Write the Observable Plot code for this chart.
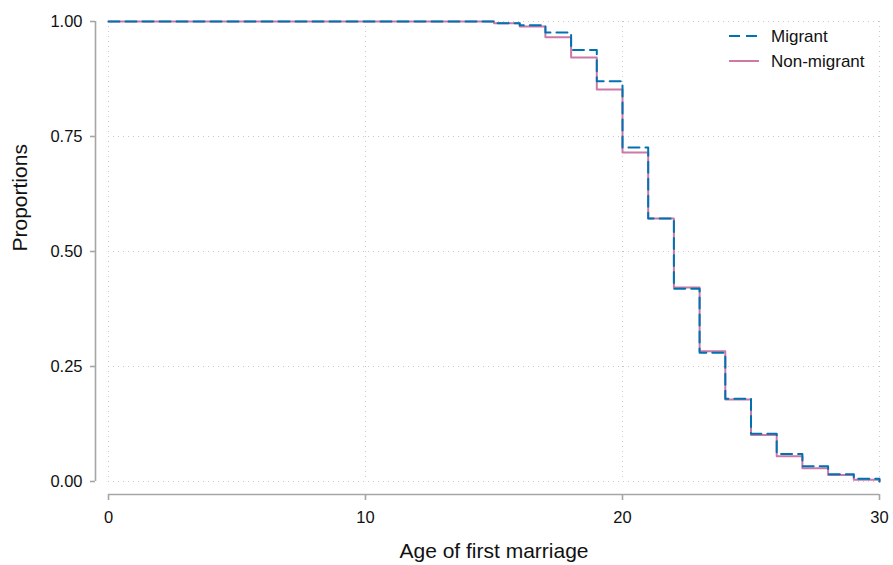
<!DOCTYPE html>
<html>
<head>
<meta charset="utf-8">
<script src="https://cdn.jsdelivr.net/npm/d3@7"></script>
<script src="https://cdn.jsdelivr.net/npm/@observablehq/plot@0.6"></script>
<style>
  html, body { margin: 0; padding: 0; background: #fff; }
  #wrap { position: relative; width: 893px; height: 565px; font-family: "Liberation Sans", Arial, sans-serif; }
  #legend { position: absolute; left: 0; top: 0; pointer-events: none; }
</style>
</head>
<body>
<div id="wrap"></div>
<script>
// ---- data ----
const ages = [0, 15, 16, 17, 18, 19, 20, 21, 22, 23, 24, 25, 26, 27, 28, 29, 30];
const migrant    = [1, 0.996, 0.992, 0.976, 0.938, 0.870, 0.726, 0.572, 0.419, 0.280, 0.180, 0.104, 0.060, 0.033, 0.016, 0.006, 0];
const nonMigrant = [1, 0.996, 0.989, 0.966, 0.922, 0.852, 0.715, 0.572, 0.422, 0.283, 0.178, 0.101, 0.055, 0.029, 0.014, 0.004, 0];
const seriesNames = ["Migrant", "Non-migrant"];
const seriesColors = ["#0072B2", "#CC79A7"];
const xTicks = [0, 10, 20, 30];
const yTicks = [0, 0.25, 0.5, 0.75, 1];
const xLabel = "Age of first marriage";
const yLabel = "Proportions";

const migData = ages.map((a, i) => ({age: a, p: migrant[i]}));
const nonData = ages.map((a, i) => ({age: a, p: nonMigrant[i]}));

const axisGray = "#a6a6a6";
const gridGray = "#c8c8c8";

const chart = Plot.plot({
  width: 893,
  height: 565,
  marginLeft: 108,
  marginRight: 14,
  marginTop: 21,
  marginBottom: 84,
  style: {fontFamily: "Liberation Sans, Arial, sans-serif", fontSize: "16.5px", color: "#111", background: "#fff"},
  x: {domain: [0, 30]},
  y: {domain: [0, 1]},
  marks: [
    Plot.gridY(yTicks, {stroke: gridGray, strokeOpacity: 1, strokeDasharray: "1,4", strokeWidth: 1}),
    Plot.gridX(xTicks, {stroke: gridGray, strokeOpacity: 1, strokeDasharray: "1,4", strokeWidth: 1}),
    Plot.ruleX([0], {y1: 0, y2: 1, dx: -13, stroke: axisGray, strokeWidth: 1.6}),
    Plot.ruleY([0], {x1: 0, x2: 30, dy: 13, stroke: axisGray, strokeWidth: 1.6}),
    Plot.axisY(yTicks, {tickSize: 5, tickPadding: 8, dx: -13, stroke: axisGray, strokeWidth: 1.6, tickFormat: d3.format(".2f"), label: null}),
    Plot.axisX(xTicks, {tickSize: 6, tickPadding: 11, dy: 13, stroke: axisGray, strokeWidth: 1.6, tickFormat: d3.format("d"), label: null}),
    Plot.text([yLabel], {frameAnchor: "left", dx: -88, rotate: -90, fontSize: 21, fill: "#111"}),
    Plot.text([xLabel], {frameAnchor: "bottom", lineAnchor: "middle", dy: 70, fontSize: 21, fill: "#111"}),
    Plot.line(nonData, {x: "age", y: "p", curve: "step-after", stroke: seriesColors[1], strokeWidth: 2}),
    Plot.line(migData, {x: "age", y: "p", curve: "step-after", stroke: seriesColors[0], strokeWidth: 2, strokeDasharray: "11,6"})
  ]
});

const wrap = document.getElementById("wrap");
wrap.appendChild(chart);

// legend (top-right, inside plot area)
const leg = d3.select(wrap).append("svg")
  .attr("id", "legend").attr("width", 893).attr("height", 100);
const legX0 = 729, legX1 = 759, legTextX = 771, legY0 = 36, legDy = 25;
seriesNames.forEach((name, i) => {
  const y = legY0 + i * legDy;
  leg.append("line")
    .attr("x1", legX0).attr("x2", legX1).attr("y1", y).attr("y2", y)
    .attr("stroke", seriesColors[i]).attr("stroke-width", 2)
    .attr("stroke-dasharray", i === 0 ? "11,6" : null);
  leg.append("text")
    .attr("x", legTextX).attr("y", y).attr("dy", "0.35em")
    .attr("font-family", "Liberation Sans, Arial, sans-serif")
    .attr("font-size", 17).attr("fill", "#111")
    .text(name);
});
</script>
</body>
</html>
